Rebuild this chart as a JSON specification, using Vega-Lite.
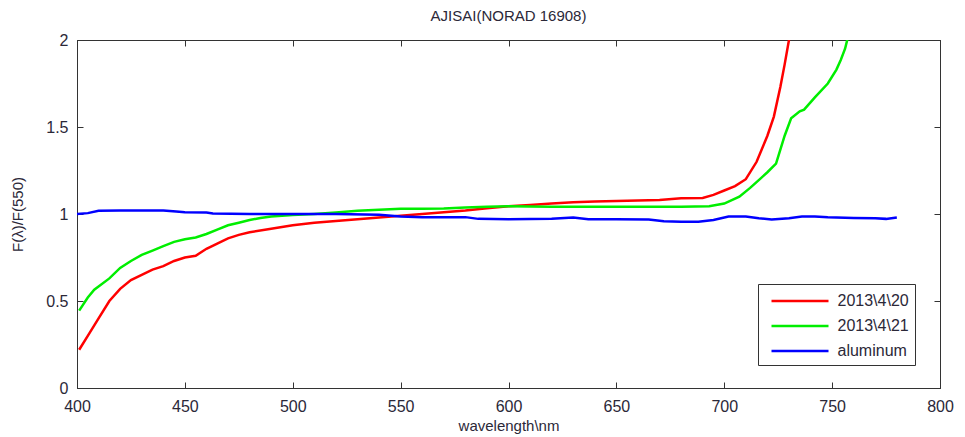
{
  "$schema": "https://vega.github.io/schema/vega-lite/v6.json",
  "width": 863,
  "height": 348,
  "autosize": {"type": "none"},
  "padding": {"left": 77, "top": 40, "right": 25, "bottom": 49},
  "background": "white",
  "title": {"text": "AJISAI(NORAD 16908)", "fontSize": 15, "fontWeight": "normal", "font": "Liberation Sans Narrow, Liberation Sans, Arial", "color": "#2b2838", "offset": 6},
  "config": {
    "view": {"stroke": "#333333", "strokeWidth": 1},
    "axis": {"grid": false, "domainColor": "#333333", "tickColor": "#333333", "tickSize": -6, "labelFlush": false, "labelFont": "Liberation Sans Narrow, Liberation Sans, Arial", "titleFont": "Liberation Sans Narrow, Liberation Sans, Arial", "labelFontSize": 16, "titleFontSize": 15, "titleFontWeight": "normal", "labelColor": "#2b2838", "titleColor": "#2b2838"},
    "legend": {"labelFont": "Liberation Sans Narrow, Liberation Sans, Arial"}
  },
  "datasets": {
    "spectra": [
      {"wl": 401, "v": 0.22, "s": "2013\\4\\20"},
      {"wl": 405, "v": 0.3, "s": "2013\\4\\20"},
      {"wl": 410, "v": 0.4, "s": "2013\\4\\20"},
      {"wl": 415, "v": 0.5, "s": "2013\\4\\20"},
      {"wl": 420, "v": 0.57, "s": "2013\\4\\20"},
      {"wl": 425, "v": 0.62, "s": "2013\\4\\20"},
      {"wl": 430, "v": 0.65, "s": "2013\\4\\20"},
      {"wl": 435, "v": 0.68, "s": "2013\\4\\20"},
      {"wl": 440, "v": 0.7, "s": "2013\\4\\20"},
      {"wl": 445, "v": 0.73, "s": "2013\\4\\20"},
      {"wl": 450, "v": 0.75, "s": "2013\\4\\20"},
      {"wl": 455, "v": 0.76, "s": "2013\\4\\20"},
      {"wl": 460, "v": 0.8, "s": "2013\\4\\20"},
      {"wl": 465, "v": 0.83, "s": "2013\\4\\20"},
      {"wl": 470, "v": 0.86, "s": "2013\\4\\20"},
      {"wl": 475, "v": 0.88, "s": "2013\\4\\20"},
      {"wl": 480, "v": 0.895, "s": "2013\\4\\20"},
      {"wl": 490, "v": 0.915, "s": "2013\\4\\20"},
      {"wl": 500, "v": 0.935, "s": "2013\\4\\20"},
      {"wl": 510, "v": 0.95, "s": "2013\\4\\20"},
      {"wl": 520, "v": 0.96, "s": "2013\\4\\20"},
      {"wl": 530, "v": 0.97, "s": "2013\\4\\20"},
      {"wl": 540, "v": 0.98, "s": "2013\\4\\20"},
      {"wl": 550, "v": 0.99, "s": "2013\\4\\20"},
      {"wl": 560, "v": 1.0, "s": "2013\\4\\20"},
      {"wl": 570, "v": 1.01, "s": "2013\\4\\20"},
      {"wl": 580, "v": 1.02, "s": "2013\\4\\20"},
      {"wl": 590, "v": 1.033, "s": "2013\\4\\20"},
      {"wl": 600, "v": 1.045, "s": "2013\\4\\20"},
      {"wl": 610, "v": 1.052, "s": "2013\\4\\20"},
      {"wl": 620, "v": 1.06, "s": "2013\\4\\20"},
      {"wl": 630, "v": 1.068, "s": "2013\\4\\20"},
      {"wl": 640, "v": 1.072, "s": "2013\\4\\20"},
      {"wl": 650, "v": 1.075, "s": "2013\\4\\20"},
      {"wl": 660, "v": 1.078, "s": "2013\\4\\20"},
      {"wl": 670, "v": 1.08, "s": "2013\\4\\20"},
      {"wl": 680, "v": 1.09, "s": "2013\\4\\20"},
      {"wl": 690, "v": 1.092, "s": "2013\\4\\20"},
      {"wl": 695, "v": 1.11, "s": "2013\\4\\20"},
      {"wl": 700, "v": 1.135, "s": "2013\\4\\20"},
      {"wl": 705, "v": 1.16, "s": "2013\\4\\20"},
      {"wl": 710, "v": 1.2, "s": "2013\\4\\20"},
      {"wl": 715, "v": 1.3, "s": "2013\\4\\20"},
      {"wl": 720, "v": 1.45, "s": "2013\\4\\20"},
      {"wl": 723, "v": 1.56, "s": "2013\\4\\20"},
      {"wl": 726, "v": 1.73, "s": "2013\\4\\20"},
      {"wl": 728, "v": 1.86, "s": "2013\\4\\20"},
      {"wl": 730, "v": 2.0, "s": "2013\\4\\20"},
      {"wl": 731, "v": 2.06, "s": "2013\\4\\20"},
      {"wl": 401, "v": 0.445, "s": "2013\\4\\21"},
      {"wl": 405, "v": 0.52, "s": "2013\\4\\21"},
      {"wl": 408, "v": 0.565, "s": "2013\\4\\21"},
      {"wl": 415, "v": 0.63, "s": "2013\\4\\21"},
      {"wl": 420, "v": 0.69, "s": "2013\\4\\21"},
      {"wl": 425, "v": 0.73, "s": "2013\\4\\21"},
      {"wl": 430, "v": 0.765, "s": "2013\\4\\21"},
      {"wl": 435, "v": 0.79, "s": "2013\\4\\21"},
      {"wl": 440, "v": 0.815, "s": "2013\\4\\21"},
      {"wl": 445, "v": 0.84, "s": "2013\\4\\21"},
      {"wl": 450, "v": 0.855, "s": "2013\\4\\21"},
      {"wl": 455, "v": 0.865, "s": "2013\\4\\21"},
      {"wl": 460, "v": 0.885, "s": "2013\\4\\21"},
      {"wl": 465, "v": 0.91, "s": "2013\\4\\21"},
      {"wl": 470, "v": 0.935, "s": "2013\\4\\21"},
      {"wl": 475, "v": 0.95, "s": "2013\\4\\21"},
      {"wl": 480, "v": 0.965, "s": "2013\\4\\21"},
      {"wl": 485, "v": 0.977, "s": "2013\\4\\21"},
      {"wl": 490, "v": 0.985, "s": "2013\\4\\21"},
      {"wl": 500, "v": 0.994, "s": "2013\\4\\21"},
      {"wl": 510, "v": 1.0, "s": "2013\\4\\21"},
      {"wl": 520, "v": 1.008, "s": "2013\\4\\21"},
      {"wl": 530, "v": 1.018, "s": "2013\\4\\21"},
      {"wl": 540, "v": 1.025, "s": "2013\\4\\21"},
      {"wl": 550, "v": 1.03, "s": "2013\\4\\21"},
      {"wl": 560, "v": 1.03, "s": "2013\\4\\21"},
      {"wl": 570, "v": 1.032, "s": "2013\\4\\21"},
      {"wl": 580, "v": 1.038, "s": "2013\\4\\21"},
      {"wl": 590, "v": 1.042, "s": "2013\\4\\21"},
      {"wl": 600, "v": 1.045, "s": "2013\\4\\21"},
      {"wl": 620, "v": 1.042, "s": "2013\\4\\21"},
      {"wl": 650, "v": 1.042, "s": "2013\\4\\21"},
      {"wl": 680, "v": 1.042, "s": "2013\\4\\21"},
      {"wl": 693, "v": 1.045, "s": "2013\\4\\21"},
      {"wl": 700, "v": 1.06, "s": "2013\\4\\21"},
      {"wl": 707, "v": 1.1, "s": "2013\\4\\21"},
      {"wl": 712, "v": 1.15, "s": "2013\\4\\21"},
      {"wl": 716, "v": 1.195, "s": "2013\\4\\21"},
      {"wl": 720, "v": 1.24, "s": "2013\\4\\21"},
      {"wl": 724, "v": 1.29, "s": "2013\\4\\21"},
      {"wl": 728, "v": 1.45, "s": "2013\\4\\21"},
      {"wl": 731, "v": 1.55, "s": "2013\\4\\21"},
      {"wl": 735, "v": 1.59, "s": "2013\\4\\21"},
      {"wl": 737, "v": 1.6, "s": "2013\\4\\21"},
      {"wl": 742, "v": 1.67, "s": "2013\\4\\21"},
      {"wl": 748, "v": 1.75, "s": "2013\\4\\21"},
      {"wl": 752, "v": 1.83, "s": "2013\\4\\21"},
      {"wl": 754, "v": 1.885, "s": "2013\\4\\21"},
      {"wl": 756, "v": 1.95, "s": "2013\\4\\21"},
      {"wl": 758, "v": 2.05, "s": "2013\\4\\21"},
      {"wl": 400, "v": 1.0, "s": "aluminum"},
      {"wl": 405, "v": 1.005, "s": "aluminum"},
      {"wl": 410, "v": 1.018, "s": "aluminum"},
      {"wl": 420, "v": 1.02, "s": "aluminum"},
      {"wl": 430, "v": 1.02, "s": "aluminum"},
      {"wl": 440, "v": 1.02, "s": "aluminum"},
      {"wl": 446, "v": 1.015, "s": "aluminum"},
      {"wl": 450, "v": 1.01, "s": "aluminum"},
      {"wl": 460, "v": 1.008, "s": "aluminum"},
      {"wl": 463, "v": 1.003, "s": "aluminum"},
      {"wl": 480, "v": 1.0, "s": "aluminum"},
      {"wl": 500, "v": 1.0, "s": "aluminum"},
      {"wl": 520, "v": 1.0, "s": "aluminum"},
      {"wl": 540, "v": 0.995, "s": "aluminum"},
      {"wl": 550, "v": 0.985, "s": "aluminum"},
      {"wl": 560, "v": 0.982, "s": "aluminum"},
      {"wl": 570, "v": 0.982, "s": "aluminum"},
      {"wl": 580, "v": 0.982, "s": "aluminum"},
      {"wl": 586, "v": 0.972, "s": "aluminum"},
      {"wl": 600, "v": 0.97, "s": "aluminum"},
      {"wl": 620, "v": 0.972, "s": "aluminum"},
      {"wl": 630, "v": 0.98, "s": "aluminum"},
      {"wl": 637, "v": 0.97, "s": "aluminum"},
      {"wl": 650, "v": 0.97, "s": "aluminum"},
      {"wl": 665, "v": 0.969, "s": "aluminum"},
      {"wl": 672, "v": 0.958, "s": "aluminum"},
      {"wl": 680, "v": 0.956, "s": "aluminum"},
      {"wl": 688, "v": 0.956, "s": "aluminum"},
      {"wl": 695, "v": 0.965, "s": "aluminum"},
      {"wl": 702, "v": 0.985, "s": "aluminum"},
      {"wl": 710, "v": 0.985, "s": "aluminum"},
      {"wl": 716, "v": 0.975, "s": "aluminum"},
      {"wl": 722, "v": 0.969, "s": "aluminum"},
      {"wl": 730, "v": 0.975, "s": "aluminum"},
      {"wl": 736, "v": 0.985, "s": "aluminum"},
      {"wl": 742, "v": 0.985, "s": "aluminum"},
      {"wl": 748, "v": 0.981, "s": "aluminum"},
      {"wl": 760, "v": 0.977, "s": "aluminum"},
      {"wl": 770, "v": 0.975, "s": "aluminum"},
      {"wl": 775, "v": 0.972, "s": "aluminum"},
      {"wl": 780, "v": 0.98, "s": "aluminum"}
    ]
  },
  "data": {"name": "spectra"},
  "resolve": {"axis": {"x": "independent", "y": "independent"}},
  "layer": [
    {
      "mark": {"type": "line", "strokeWidth": 2.5, "clip": true},
      "encoding": {
        "x": {"field": "wl", "type": "quantitative", "scale": {"domain": [400, 800], "nice": false}, "axis": {"title": "wavelength\\nm", "values": [400, 450, 500, 550, 600, 650, 700, 750, 800], "labelPadding": 16, "titlePadding": 4}},
        "y": {"field": "v", "type": "quantitative", "scale": {"domain": [0, 2], "nice": false}, "axis": {"title": "F(λ)/F(550)", "values": [0, 0.5, 1, 1.5, 2], "format": "~g", "labelPadding": 15, "titlePadding": 20}},
        "color": {"field": "s", "type": "nominal", "scale": {"domain": ["2013\\4\\20", "2013\\4\\21", "aluminum"], "range": ["#ff0000", "#00ee00", "#0000ff"]},
          "legend": {"title": null, "orient": "none", "legendX": 681, "legendY": 244, "symbolType": "M-0.35,0H5.35", "symbolSize": 400, "symbolStrokeWidth": 2.5, "labelFontSize": 16, "labelColor": "#2b2838", "strokeColor": "#333333", "fillColor": "white", "padding": 5.5, "rowPadding": 5, "cornerRadius": 0, "labelOffset": 51}}
      }
    },
    {
      "mark": {"type": "line", "opacity": 0},
      "encoding": {
        "x": {"field": "wl", "type": "quantitative", "scale": {"domain": [400, 800], "nice": false}, "axis": {"orient": "top", "title": null, "labels": false, "values": [400, 450, 500, 550, 600, 650, 700, 750, 800]}},
        "y": {"field": "v", "type": "quantitative", "scale": {"domain": [0, 2], "nice": false}, "axis": {"orient": "right", "title": null, "labels": false, "values": [0, 0.5, 1, 1.5, 2]}},
        "detail": {"field": "s"}
      }
    }
  ]
}
